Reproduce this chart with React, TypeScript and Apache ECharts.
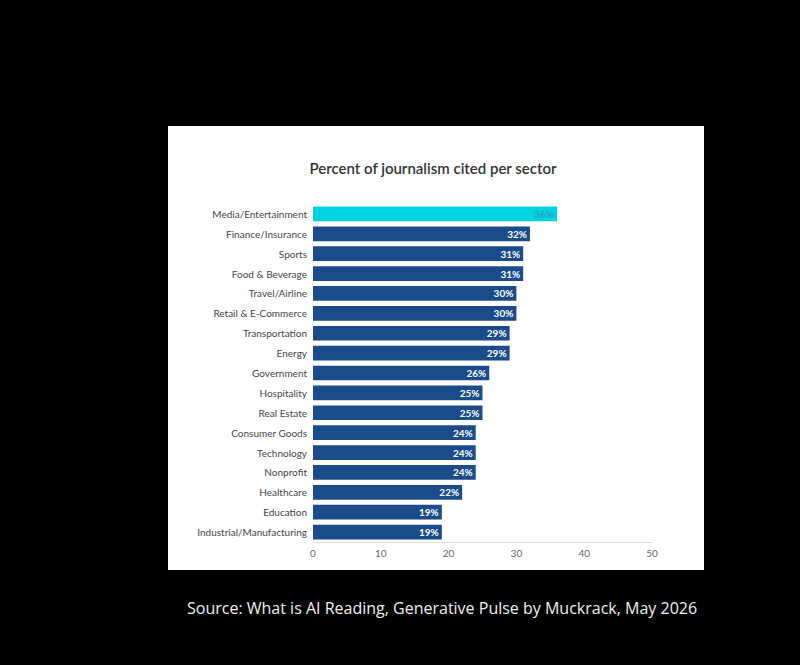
import React, { useEffect, useRef } from "react";
import * as echarts from "echarts";

const categories = [
  "Media/Entertainment",
  "Finance/Insurance",
  "Sports",
  "Food & Beverage",
  "Travel/Airline",
  "Retail & E-Commerce",
  "Transportation",
  "Energy",
  "Government",
  "Hospitality",
  "Real Estate",
  "Consumer Goods",
  "Technology",
  "Nonprofit",
  "Healthcare",
  "Education",
  "Industrial/Manufacturing",
];
const values = [36, 32, 31, 31, 30, 30, 29, 29, 26, 25, 25, 24, 24, 24, 22, 19, 19];
const xTicks = [0, 10, 20, 30, 40, 50];
const title = "Percent of journalism cited per sector";
const source = "Source: What is AI Reading, Generative Pulse by Muckrack, May 2026";

export default function App() {
  const ref = useRef<HTMLDivElement>(null);
  useEffect(() => {
    if (!ref.current) return;
    const chart = echarts.init(ref.current, null, { renderer: "svg" });
    chart.setOption({
      animation: false,
      backgroundColor: "#000000",
      graphic: [
        {
          type: "rect",
          z: -10,
          shape: { x: 168, y: 126, width: 536, height: 444 },
          style: { fill: "#ffffff" },
        },
        {
          type: "text",
          x: 433,
          y: 168,
          style: {
            text: title,
            fill: "#333333",
            font: "600 15px Lato",
            textAlign: "center",
            textVerticalAlign: "middle",
          },
        },
        {
          type: "text",
          x: 187,
          y: 608,
          style: {
            text: source,
            fill: "#f0f0f0",
            font: "16px 'Open Sans'",
            textAlign: "left",
            textVerticalAlign: "middle",
          },
        },
      ],
      grid: { left: 313, right: 148, top: 204, bottom: 123, containLabel: false },
      xAxis: {
        type: "value",
        min: xTicks[0],
        max: xTicks[xTicks.length - 1],
        interval: 10,
        axisLine: { show: true, lineStyle: { color: "#dcdcdc", width: 1 } },
        axisTick: { show: false },
        splitLine: { show: false },
        axisLabel: { color: "#666666", fontSize: 10, fontFamily: "Lato", margin: 6 },
      },
      yAxis: {
        type: "category",
        inverse: true,
        data: categories,
        axisLine: { show: false },
        axisTick: { show: false },
        axisLabel: { color: "#444444", fontSize: 10, fontFamily: "Lato", margin: 6 },
      },
      series: [
        {
          type: "bar",
          barCategoryGap: "26%",
          data: values.map((v, i) => ({
            value: v,
            itemStyle: { color: i === 0 ? "#00d3e0" : "#1b4b8a" },
            label: { color: i === 0 ? "#2a9fc4" : "#ffffff" },
          })),
          label: {
            show: true,
            position: "insideRight",
            formatter: "{c}%",
            fontSize: 10,
            fontWeight: "bold",
            fontFamily: "Lato",
            distance: 3,
          },
        },
      ],
    });
    return () => chart.dispose();
  }, []);
  return <div ref={ref} style={{ width: 800, height: 665, position: "absolute", left: 0, top: 0 }} />;
}
